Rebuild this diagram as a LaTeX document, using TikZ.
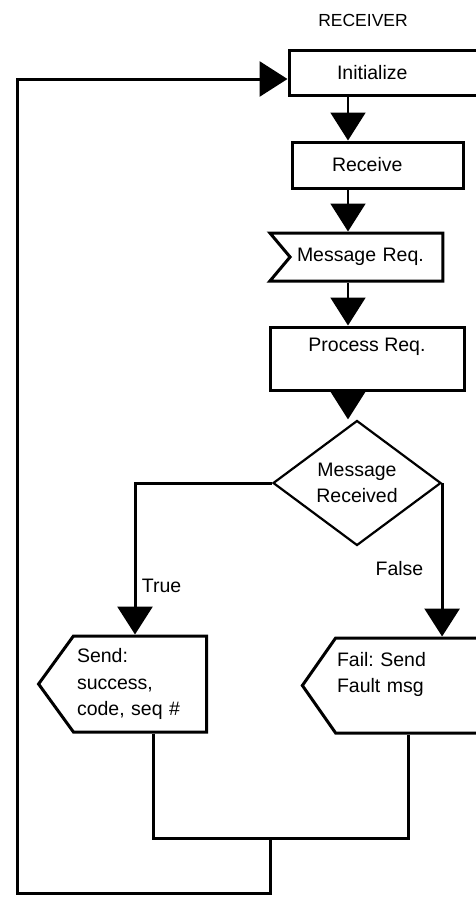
\documentclass[tikz,border=0pt]{standalone}
\usepackage{fontspec}
\setmainfont{Liberation Sans}
\usetikzlibrary{arrows.meta,shapes.geometric,shapes.symbols}
\frenchspacing

\begin{document}
\begin{tikzpicture}
	 [x=1pt,y=-1pt,font=\fontsize{19.5}{26.5}\selectfont,
	  box/.style={draw,line width=3pt,inner sep=0pt},
	  flow/.style={line width=3pt},
	  link/.style={line width=2pt},
	  arr/.style={-{Triangle[width=35pt,length=28pt]}}]

	\useasboundingbox (0,0) rectangle (476,897);

	  \node (title) at (363,20) {\fontsize{17.5}{20}\selectfont RECEIVER};
	  \node (init) [box,minimum width=200pt,minimum height=45pt,text width=104pt,align=left] at (389,72.5) {Initialize};
	  \node (recv) [box,minimum width=171pt,minimum height=46pt,text width=91pt,align=left] at (377.5,165) {Receive};
	  \node (msg) [box,signal,signal from=west,signal to=nowhere,signal pointer angle=100,minimum width=173pt,minimum height=48pt,text width=139pt,align=left] at (366.5,257) {Message Req.};
	  \node (proc) [box,minimum width=194pt,minimum height=63pt,align=center] at (367,358.5) {Process Req.\\\mbox{}};
	  \node (dec) [draw,diamond,aspect=1.35,line width=2.2pt,inner sep=0pt,minimum width=168pt,minimum height=125pt,align=center] at (357,483) {Message\\Received};
	  \node (send) [box,signal,signal to=west,signal pointer angle=108,minimum width=168pt,minimum height=96pt,text width=126pt,align=left] at (140,684) {Send:\\success,\\code, seq \#};
	  \node (fail) [box,signal,signal to=west,signal pointer angle=110,minimum width=193pt,minimum height=95pt,text width=157pt,align=left] at (415.5,685.5) {Fail: Send\\Fault msg\\\mbox{}};

	  \coordinate (col) at (348,0);
	\foreach \from/\to in {init/recv,recv/msg,msg/proc,proc/dec}
    \draw[link,arr] (\from.south -| col) -- (\to.north -| col);

	  \coordinate (tc) at (135,0);
	\draw[flow,arr] (dec.west) -| (tc |- send.north) node[pos=0.84,right=2pt] (tl) {True};
	\draw[flow,arr] (dec.east) -- (dec.east |- fail.north) node[pos=0.56,left=14pt] (fl) {False};

	  \coordinate (j1) at (153,838);
	  \coordinate (j2) at (408,838);
	  \coordinate (j3) at (270,893);
	  \coordinate (j4) at (17,893);
	  \coordinate (j5) at (17,79);
	\draw[flow] (send.south -| j1) -- (j1) -- (j2) -- (fail.south -| j2);
	\draw[flow,arr] (j1 -| j3) -- (j3) -- (j4) -- (j5) -- (j5 -| init.west);

\end{tikzpicture}
\end{document}
